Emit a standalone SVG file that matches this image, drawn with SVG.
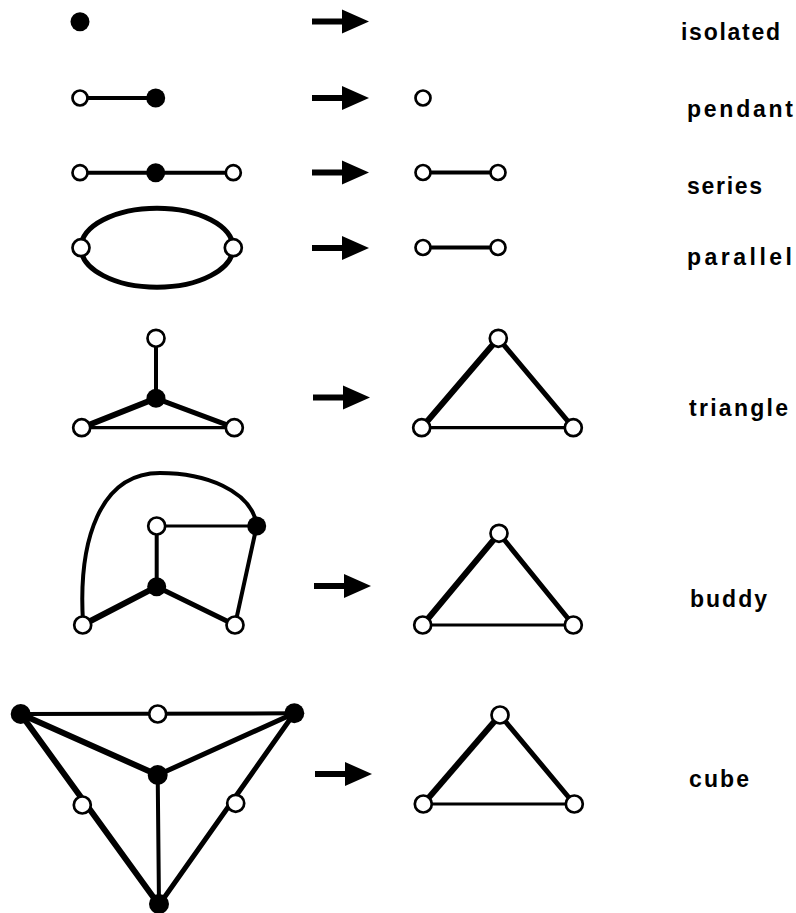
<svg xmlns="http://www.w3.org/2000/svg" width="796" height="913" viewBox="0 0 796 913">
<style>
.o{fill:#fff;stroke:#000;stroke-width:2.7}
.f{fill:#000}
.e{stroke:#000;fill:none;stroke-linecap:round}
.w3{stroke-width:3.2}
.w4{stroke-width:4}
.w5{stroke-width:5}
.w6{stroke-width:6}
.lbl{font-family:"Liberation Sans",Arial,sans-serif;font-weight:bold;font-size:23px;fill:#000}
</style>
<defs>
<g id="arrow"><rect x="0" y="-3" width="32" height="6" fill="#000"/><polygon points="30,-12 57,0 30,12" fill="#000"/></g>
</defs>
<rect width="796" height="913" fill="#fff"/>
<g id="transform-arrows">
<use href="#arrow" x="312" y="21.5"/>
<use href="#arrow" x="312" y="98"/>
<use href="#arrow" x="312" y="172.5"/>
<use href="#arrow" x="312" y="248"/>
<use href="#arrow" x="313" y="397.5"/>
<use href="#arrow" x="314" y="586"/>
<use href="#arrow" x="315" y="774"/>
</g>
<g id="connectors">
<line class="e w4" x1="80" y1="98" x2="155.7" y2="98"/>
<line class="e w4" x1="80" y1="172.7" x2="233.3" y2="172.7"/>
<line class="e w4" x1="423" y1="172.5" x2="498" y2="172.5"/>
<ellipse class="e w5" cx="157" cy="247.7" rx="76" ry="39.5"/>
<line class="e w4" x1="423" y1="247.5" x2="498" y2="247.5"/>
<line class="e w4" x1="156" y1="338.3" x2="156" y2="398.3"/>
<line class="e w6" x1="156" y1="398.3" x2="81.7" y2="427.7"/>
<line class="e w5" x1="156" y1="398.3" x2="234.3" y2="427.7"/>
<line class="e w3" x1="81.7" y1="427.7" x2="234.3" y2="427.7"/>
<line class="e w6" x1="498.3" y1="338.3" x2="421.7" y2="427.7"/>
<line class="e w5" x1="498.3" y1="338.3" x2="573.3" y2="427.7"/>
<line class="e w3" x1="421.7" y1="427.7" x2="573.3" y2="427.7"/>
<path class="e w4" d="M83 622 C78 540 100 473 160 473 C205 473 250 490 256.7 524"/>
<line class="e w3" x1="156.7" y1="526" x2="256.7" y2="526"/>
<line class="e w4" x1="156.7" y1="526" x2="156.7" y2="586.7"/>
<line class="e w6" x1="156.7" y1="586.7" x2="82.7" y2="625"/>
<line class="e w5" x1="156.7" y1="586.7" x2="235" y2="625"/>
<line class="e w4" x1="256.7" y1="526" x2="235" y2="625"/>
<line class="e w6" x1="499" y1="533.3" x2="422.7" y2="625"/>
<line class="e w5" x1="499" y1="533.3" x2="573.3" y2="625"/>
<line class="e w3" x1="422.7" y1="625" x2="573.3" y2="625"/>
<line class="e w4" x1="20.7" y1="714" x2="294.3" y2="713.3"/>
<line class="e w6" x1="20.7" y1="714" x2="157.7" y2="775"/>
<line class="e w5" x1="294.3" y1="713.3" x2="157.7" y2="775"/>
<line class="e w4" x1="157.7" y1="775" x2="159" y2="905"/>
<line class="e w6" x1="20.7" y1="714" x2="159" y2="905"/>
<line class="e w5" x1="294.3" y1="713.3" x2="159" y2="905"/>
<line class="e w6" x1="500" y1="715" x2="423.3" y2="804"/>
<line class="e w5" x1="500" y1="715" x2="574.3" y2="804"/>
<line class="e w3" x1="423.3" y1="804" x2="574.3" y2="804"/>
</g>
<g id="isolated">
<circle class="f" cx="80" cy="21.7" r="9.5"/>
<text class="lbl" x="681" y="40" textLength="99" lengthAdjust="spacing">isolated</text>
</g>
<g id="pendant">
<circle class="o" cx="80" cy="98" r="7.5"/>
<circle class="f" cx="155.7" cy="98" r="9.5"/>
<circle class="o" cx="423" cy="98" r="7.5"/>
<text class="lbl" x="687" y="117" textLength="106" lengthAdjust="spacing">pendant</text>
</g>
<g id="series">
<circle class="o" cx="80" cy="172.7" r="7.5"/>
<circle class="f" cx="155.7" cy="172.7" r="9.5"/>
<circle class="o" cx="233.3" cy="172.7" r="7.5"/>
<circle class="o" cx="423" cy="172.5" r="7.5"/>
<circle class="o" cx="498" cy="172.5" r="7.5"/>
<text class="lbl" x="687" y="194" textLength="75" lengthAdjust="spacing">series</text>
</g>
<g id="parallel">
<circle class="o" cx="81" cy="247.7" r="8.5"/>
<circle class="o" cx="233.3" cy="247.7" r="8.5"/>
<circle class="o" cx="423" cy="247.5" r="7.5"/>
<circle class="o" cx="498" cy="247.5" r="7.5"/>
<text class="lbl" x="687" y="265" textLength="105" lengthAdjust="spacing">parallel</text>
</g>
<g id="triangle">
<circle class="o" cx="156" cy="338.3" r="8.5"/>
<circle class="f" cx="156" cy="398.3" r="9.5"/>
<circle class="o" cx="81.7" cy="427.7" r="8.5"/>
<circle class="o" cx="234.3" cy="427.7" r="8.5"/>
<circle class="o" cx="498.3" cy="338.3" r="8.5"/>
<circle class="o" cx="421.7" cy="427.7" r="8.5"/>
<circle class="o" cx="573.3" cy="427.7" r="8.5"/>
<text class="lbl" x="689" y="416" textLength="99" lengthAdjust="spacing">triangle</text>
</g>
<g id="buddy">
<circle class="o" cx="156.7" cy="526" r="8.5"/>
<circle class="f" cx="256.7" cy="526" r="9.5"/>
<circle class="f" cx="156.7" cy="586.7" r="9.5"/>
<circle class="o" cx="82.7" cy="625" r="8.5"/>
<circle class="o" cx="235" cy="625" r="8.5"/>
<circle class="o" cx="499" cy="533.3" r="8.5"/>
<circle class="o" cx="422.7" cy="625" r="8.5"/>
<circle class="o" cx="573.3" cy="625" r="8.5"/>
<text class="lbl" x="690" y="607" textLength="77" lengthAdjust="spacing">buddy</text>
</g>
<g id="cube">
<circle class="f" cx="20.7" cy="714" r="10"/>
<circle class="o" cx="157.7" cy="714" r="8.5"/>
<circle class="f" cx="294.3" cy="713.3" r="10"/>
<circle class="f" cx="157.7" cy="775" r="10"/>
<circle class="o" cx="82.3" cy="805" r="8.5"/>
<circle class="o" cx="235.7" cy="803.3" r="8.5"/>
<circle class="f" cx="159" cy="904" r="10"/>
<circle class="o" cx="500" cy="715" r="8.5"/>
<circle class="o" cx="423.3" cy="804" r="8.5"/>
<circle class="o" cx="574.3" cy="804" r="8.5"/>
<text class="lbl" x="689" y="787" textLength="60" lengthAdjust="spacing">cube</text>
</g>
</svg>
